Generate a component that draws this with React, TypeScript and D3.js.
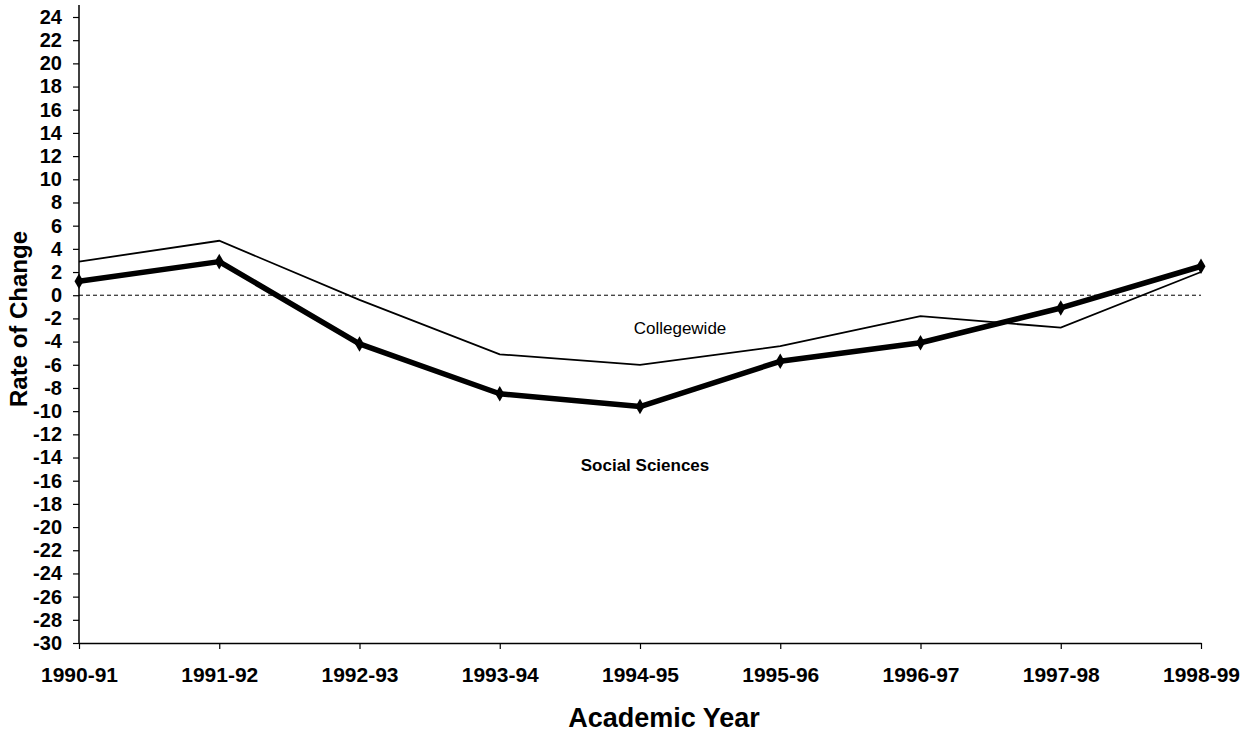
import { useEffect, useRef } from "react";
import * as d3 from "d3";

const years = ["1990-91", "1991-92", "1992-93", "1993-94", "1994-95", "1995-96", "1996-97", "1997-98", "1998-99"];
const collegewide = [2.9, 4.7, -0.4, -5.1, -6.0, -4.4, -1.8, -2.8, 2.0];
const socialSciences = [1.2, 2.9, -4.2, -8.5, -9.6, -5.7, -4.1, -1.1, 2.5];
const yTicks = d3.range(-30, 25, 2);

const App = () => {
    const container = useRef<SVGSVGElement>(null);

    useEffect(() => {
        const svg = d3.select(container.current);
        svg.selectAll("*").remove();

        const font = "Arial, 'Liberation Sans', sans-serif";

        const x = d3.scalePoint<string>()
            .domain(years)
            .range([79, 1201]);

        const y = d3.scaleLinear()
            .domain([-30, 24])
            .range([643, 17]);

        // y axis (hyphen minus, like the original)
        const yAxis = svg.append("g")
            .attr("transform", "translate(79,0)")
            .call(d3.axisLeft(y)
                .tickValues(yTicks)
                .tickFormat((d) => `${d}`)
                .tickSize(6).tickPadding(11).tickSizeOuter(0));
        yAxis.select(".domain").remove();
        yAxis.append("line")
            .attr("x1", 0).attr("x2", 0)
            .attr("y1", 5).attr("y2", 643)
            .attr("stroke", "#000").attr("stroke-width", 1.5);
        yAxis.selectAll("text")
            .style("font-family", font)
            .style("font-size", "20px")
            .style("font-weight", "bold")
            .attr("fill", "#000");
        yAxis.selectAll(".tick line").attr("stroke", "#000").attr("stroke-width", 1.2);

        // x axis
        const xAxis = svg.append("g")
            .attr("transform", "translate(0,643)")
            .call(d3.axisBottom(x).tickSize(6).tickPadding(18).tickSizeOuter(0));
        xAxis.select(".domain").attr("stroke", "#000").attr("stroke-width", 1.5);
        xAxis.selectAll("text")
            .style("font-family", font)
            .style("font-size", "21px")
            .style("font-weight", "bold")
            .attr("fill", "#000");
        xAxis.selectAll(".tick line").attr("stroke", "#000").attr("stroke-width", 1.2);

        // zero reference line
        svg.append("line")
            .attr("x1", x(years[0])!)
            .attr("x2", x(years[years.length - 1])!)
            .attr("y1", y(0)).attr("y2", y(0))
            .attr("stroke", "#000")
            .attr("stroke-width", 1)
            .attr("stroke-dasharray", "4,3");

        const line = d3.line<number>()
            .x((d, i) => x(years[i])!)
            .y((d) => y(d));

        svg.append("path")
            .datum(collegewide)
            .attr("d", line)
            .attr("fill", "none")
            .attr("stroke", "#000")
            .attr("stroke-width", 1.8);

        svg.append("path")
            .datum(socialSciences)
            .attr("d", line)
            .attr("fill", "none")
            .attr("stroke", "#000")
            .attr("stroke-width", 5.5)
            .attr("stroke-linejoin", "round");

        svg.selectAll("path.marker")
            .data(socialSciences)
            .join("path")
            .attr("class", "marker")
            .attr("d", d3.symbol(d3.symbolDiamond, 70))
            .attr("transform", (d, i) => `translate(${x(years[i])},${y(d)})`)
            .attr("fill", "#000");

        svg.append("text")
            .attr("x", 680).attr("y", 334)
            .attr("text-anchor", "middle")
            .style("font-family", font)
            .style("font-size", "17px")
            .text("Collegewide");

        svg.append("text")
            .attr("x", 645).attr("y", 471)
            .attr("text-anchor", "middle")
            .style("font-family", font)
            .style("font-size", "17px")
            .style("font-weight", "bold")
            .text("Social Sciences");

        svg.append("text")
            .attr("transform", `translate(27,319) rotate(-90)`)
            .attr("text-anchor", "middle")
            .style("font-family", font)
            .style("font-size", "24px")
            .style("font-weight", "bold")
            .text("Rate of Change");

        svg.append("text")
            .attr("x", 664).attr("y", 727)
            .attr("text-anchor", "middle")
            .style("font-family", font)
            .style("font-size", "27px")
            .style("font-weight", "bold")
            .text("Academic Year");
    }, []);

    return (
        <svg ref={container} width={1245} height={738}
            style={{ position: "absolute", left: 0, top: 0, background: "#fff" }}></svg>
    );
};

export default App;
